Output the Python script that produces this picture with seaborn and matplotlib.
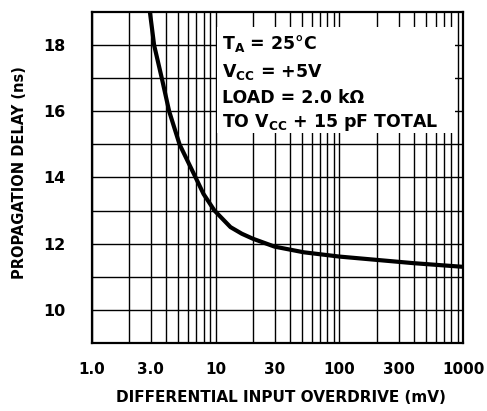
import numpy as np
import pandas as pd
import matplotlib
matplotlib.use("Agg")
import matplotlib.pyplot as plt
from matplotlib.patches import Rectangle
from matplotlib.ticker import FixedLocator, FixedFormatter, NullFormatter
import seaborn as sns

# ---- data ----
overdrive_mv = [2.95, 3.19, 3.68, 4.22, 5.12, 6.9, 8.0, 9.8, 13.2, 16.3, 20, 30, 51.5, 100, 200, 400, 1000]
delay_ns = [19.0, 18.0, 17.0, 16.0, 15.0, 14.0, 13.5, 13.0, 12.5, 12.3, 12.15, 11.91, 11.74, 11.61, 11.51, 11.41, 11.3]

x_major = [1, 3, 10, 30, 100, 300, 1000]
x_major_labels = ["1.0", "3.0", "10", "30", "100", "300", "1000"]
y_major = [10, 12, 14, 16, 18]
y_major_labels = ["10", "12", "14", "16", "18"]

annot_lines = [
    r"T$_\mathbf{A}$ = 25°C",
    r"V$_\mathbf{CC}$ = +5V",
    "LOAD = 2.0 kΩ",
    r"TO V$_\mathbf{CC}$ + 15 pF TOTAL",
]

df = pd.DataFrame({"overdrive": overdrive_mv, "delay": delay_ns})

sns.set_style("white")
plt.rcParams["font.family"] = ["DejaVu Sans"]
plt.rcParams["mathtext.fontset"] = "dejavusans"
plt.rcParams["text.color"] = "black"
plt.rcParams["axes.labelcolor"] = "black"
plt.rcParams["xtick.color"] = "black"
plt.rcParams["ytick.color"] = "black"

fig = plt.figure(figsize=(4.87, 4.11), dpi=100)
ax = fig.add_axes([0.1883, 0.1655, 0.763, 0.8054])

sns.lineplot(data=df, x="overdrive", y="delay", color="black", linewidth=3.0,
             ax=ax, zorder=5, estimator=None, sort=False,
             solid_joinstyle="round", solid_capstyle="butt")

ax.set_xscale("log")
ax.set_xlim(1, 1000)
ax.set_ylim(9, 19)

# x ticks / grid
minor_x = [m * d for d in (1, 10, 100) for m in range(2, 10) if m * d not in x_major]
ax.xaxis.set_major_locator(FixedLocator(x_major))
ax.xaxis.set_major_formatter(FixedFormatter(x_major_labels))
ax.xaxis.set_minor_locator(FixedLocator(minor_x))
ax.xaxis.set_minor_formatter(NullFormatter())

ax.yaxis.set_major_locator(FixedLocator(y_major))
ax.yaxis.set_major_formatter(FixedFormatter(y_major_labels))
ax.yaxis.set_minor_locator(FixedLocator([11, 13, 15, 17]))
ax.yaxis.set_minor_formatter(NullFormatter())

ax.set_axisbelow(True)
ax.grid(which="both", color="black", linewidth=1.0)

ax.tick_params(axis="both", which="both", length=0, colors="black")
ax.tick_params(axis="x", pad=14, labelsize=11)
ax.tick_params(axis="y", pad=19, labelsize=11.5)
for lab in ax.get_xticklabels() + ax.get_yticklabels():
    lab.set_fontweight("bold")

for sp in ax.spines.values():
    sp.set_color("black")
    sp.set_linewidth(1.6)
    sp.set_visible(True)

# white box with conditions
ax.add_patch(Rectangle((0.337, 0.634), 0.641, 0.321, transform=ax.transAxes,
                       facecolor="white", edgecolor="none", zorder=3))
ys = [0.888, 0.804, 0.725, 0.653]
for t, yy in zip(annot_lines, ys):
    ax.text(0.351, yy, t, transform=ax.transAxes, fontsize=12.5, fontweight="bold",
            va="baseline", ha="left", zorder=4, color="black")

ax.set_xlabel("DIFFERENTIAL INPUT OVERDRIVE (mV)", fontsize=11, fontweight="bold",
              color="black")
ax.xaxis.set_label_coords(0.51, -0.166)
ax.xaxis.label.set_va("center")
ax.set_ylabel("PROPAGATION DELAY (ns)", fontsize=10.5, fontweight="bold", color="black")
ax.yaxis.set_label_coords(-0.193, 0.514)
ax.yaxis.label.set_va("center")

fig.savefig("out.png", dpi=100, facecolor="white")
